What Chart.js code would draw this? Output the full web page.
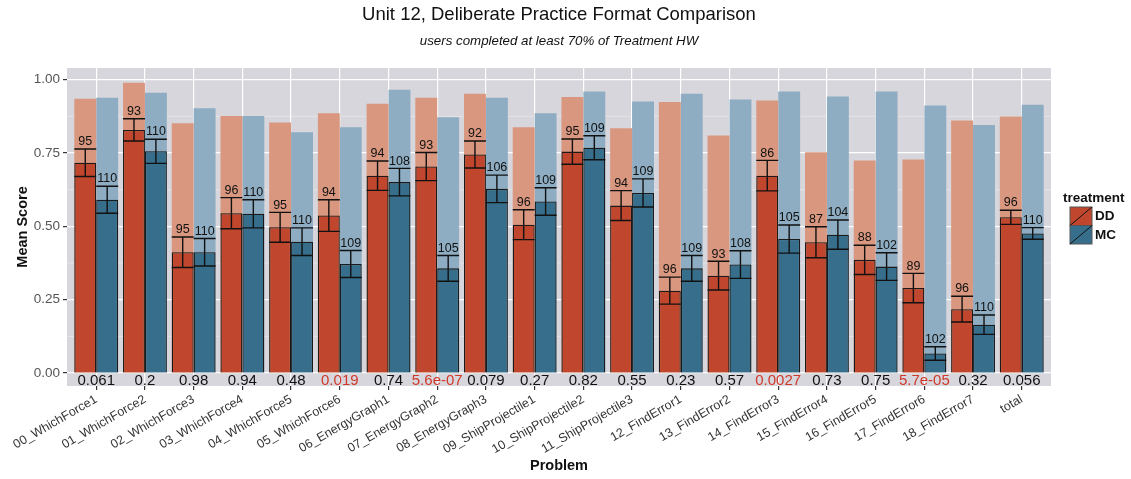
<!DOCTYPE html>
<html>
<head>
<meta charset="utf-8">
<script src="https://cdn.jsdelivr.net/npm/chart.js@4.4.1/dist/chart.umd.min.js"></script>
<style>
  html, body { margin: 0; padding: 0; background: #fff; }
  #wrap { width: 1131px; height: 479px; }
</style>
</head>
<body>
<div id="wrap"><canvas id="chart" width="1131" height="479"></canvas></div>
<script>
const problems = [
  '00_WhichForce1', '01_WhichForce2', '02_WhichForce3', '03_WhichForce4', '04_WhichForce5',
  '05_WhichForce6', '06_EnergyGraph1', '07_EnergyGraph2', '08_EnergyGraph3', '09_ShipProjectile1',
  '10_ShipProjectile2', '11_ShipProjectile3', '12_FindError1', '13_FindError2', '14_FindError3',
  '15_FindError4', '16_FindError5', '17_FindError6', '18_FindError7', 'total'
];

// mean score per problem
const ddMean = [0.717, 0.829, 0.412, 0.545, 0.497, 0.537, 0.673, 0.704, 0.745, 0.506,
                0.755, 0.571, 0.281, 0.332, 0.673, 0.446, 0.386, 0.290, 0.218, 0.531];
const mcMean = [0.591, 0.756, 0.412, 0.543, 0.448, 0.372, 0.651, 0.357, 0.628, 0.585,
                0.768, 0.614, 0.357, 0.370, 0.457, 0.472, 0.363, 0.067, 0.165, 0.476];

// standard errors
const ddSe = [0.047, 0.038, 0.052, 0.053, 0.051, 0.054, 0.050, 0.048, 0.046, 0.051,
              0.043, 0.051, 0.046, 0.049, 0.052, 0.053, 0.050, 0.050, 0.044, 0.024];
const mcSe = [0.046, 0.041, 0.047, 0.048, 0.047, 0.046, 0.047, 0.044, 0.047, 0.047,
              0.041, 0.048, 0.044, 0.047, 0.048, 0.050, 0.047, 0.023, 0.033, 0.020];

// faded background bars
const ddTop = [0.935, 0.990, 0.852, 0.876, 0.854, 0.886, 0.918, 0.939, 0.952, 0.838,
               0.941, 0.835, 0.924, 0.810, 0.929, 0.753, 0.725, 0.728, 0.861, 0.875];
const mcTop = [0.939, 0.956, 0.903, 0.876, 0.821, 0.838, 0.966, 0.872, 0.939, 0.886,
               0.960, 0.926, 0.952, 0.933, 0.960, 0.943, 0.960, 0.912, 0.846, 0.915];

// number of users
const ddN = [95, 93, 95, 96, 95, 94, 94, 93, 92, 96, 95, 94, 96, 93, 86, 87, 88, 89, 96, 96];
const mcN = [110, 110, 110, 110, 110, 109, 108, 105, 106, 109, 109, 109, 109, 108, 105, 104, 102, 102, 110, 110];

// p-values DD vs MC
const pValues = [0.061, 0.2, 0.98, 0.94, 0.48, 0.019, 0.74, 5.6e-7, 0.079, 0.27,
                 0.82, 0.55, 0.23, 0.57, 0.0027, 0.73, 0.75, 5.7e-5, 0.32, 0.056];

const yTicks = [0, 0.25, 0.5, 0.75, 1];
const yMinor = [0.125, 0.375, 0.625, 0.875];

const FONT = '"Liberation Sans", Arial, Helvetica, sans-serif';
const ddColor = '#C0472E', mcColor = '#366E8B';
const ddFade = '#D9977F', mcFade = '#8EADC2';
const panelBg = '#D7D6DC';

const xMin = -0.6, xMax = problems.length - 0.4;

function fmtP(v) {
  if (v < 1e-4) {
    const [m, e] = v.toExponential(1).split('e');
    const sign = e[0] === '-' ? '-' : '+';
    const digits = e.replace(/[+-]/, '').padStart(2, '0');
    return m + 'e' + sign + digits;
  }
  return String(Number(v.toPrecision(2)));
}

// gray panel + minor grid
const panel = {
  id: 'panel',
  beforeDraw(chart) {
    const { ctx, chartArea: a, scales: { y } } = chart;
    ctx.save();
    ctx.fillStyle = panelBg;
    ctx.fillRect(a.left, a.top, a.right - a.left, a.bottom - a.top);
    ctx.strokeStyle = 'rgba(255,255,255,0.55)';
    ctx.lineWidth = 0.6;
    yMinor.forEach(v => {
      const py = y.getPixelForValue(v);
      ctx.beginPath();
      ctx.moveTo(a.left, py);
      ctx.lineTo(a.right, py);
      ctx.stroke();
    });
    ctx.restore();
  }
};

// error bars, counts, p-values
const annotations = {
  id: 'annotations',
  afterDatasetsDraw(chart) {
    const { ctx, scales: { x, y } } = chart;
    ctx.save();
    ctx.strokeStyle = '#111';
    ctx.lineWidth = 1.4;
    ctx.fillStyle = '#111';
    ctx.font = '12.5px ' + FONT;
    ctx.textAlign = 'center';
    ctx.textBaseline = 'bottom';
    [[0, ddMean, ddSe, ddN], [1, mcMean, mcSe, mcN]].forEach(([di, mean, se, n]) => {
      chart.getDatasetMeta(di).data.forEach((bar, i) => {
        const half = bar.width / 2;
        const hi = y.getPixelForValue(mean[i] + se[i]);
        const lo = y.getPixelForValue(mean[i] - se[i]);
        ctx.beginPath();
        ctx.moveTo(bar.x - half, hi); ctx.lineTo(bar.x + half, hi);
        ctx.moveTo(bar.x, hi); ctx.lineTo(bar.x, lo);
        ctx.moveTo(bar.x - half, lo); ctx.lineTo(bar.x + half, lo);
        ctx.stroke();
        ctx.fillText(String(n[i]), bar.x, hi - 1);
      });
    });
    ctx.font = '15px ' + FONT;
    ctx.textBaseline = 'middle';
    pValues.forEach((p, i) => {
      ctx.fillStyle = p < 0.05 ? '#D0392A' : '#111';
      ctx.fillText(fmtP(p), x.getPixelForValue(i), y.getPixelForValue(-0.026));
    });
    ctx.restore();
  }
};

// title, subtitle and legend
const frame = {
  id: 'frame',
  afterDraw(chart) {
    const { ctx, chartArea: a } = chart;
    const cx = (a.left + a.right) / 2;
    ctx.save();
    ctx.fillStyle = '#111';
    ctx.textAlign = 'center';
    ctx.textBaseline = 'middle';
    ctx.font = '18.5px ' + FONT;
    ctx.fillText('Unit 12, Deliberate Practice Format Comparison', cx, 15);
    ctx.font = 'italic 13.3px ' + FONT;
    ctx.fillText('users completed at least 70% of Treatment HW', cx, 41);

    const lx = a.right + 19;
    ctx.textAlign = 'left';
    ctx.font = 'bold 13.5px ' + FONT;
    ctx.fillText('treatment', a.right + 12, 198);
    [['DD', ddColor], ['MC', mcColor]].forEach(([name, col], k) => {
      const top = 207 + k * 18.5;
      ctx.fillStyle = col;
      ctx.fillRect(lx, top, 22, 18.5);
      ctx.strokeStyle = '#555';
      ctx.lineWidth = 1;
      ctx.strokeRect(lx, top, 22, 18.5);
      ctx.strokeStyle = '#111';
      ctx.beginPath();
      ctx.moveTo(lx, top + 18.5);
      ctx.lineTo(lx + 22, top);
      ctx.stroke();
      ctx.fillStyle = '#111';
      ctx.font = 'bold 13.5px ' + FONT;
      ctx.fillText(name, lx + 25, top + 9.5);
    });
    ctx.restore();
  }
};

// solid and faded bars share a slot through their stack name
const bars = (label, stack, vals, color, border) => ({
  label,
  stack,
  data: vals.map((v, i) => ({ x: i, y: v })),
  backgroundColor: color,
  borderColor: '#1a1a1a',
  borderWidth: border
});

new Chart(document.getElementById('chart'), {
  type: 'bar',
  data: {
    datasets: [
      bars('DD', 'DD', ddMean, ddColor, 1.3),
      bars('MC', 'MC', mcMean, mcColor, 1.3),
      bars('DD all', 'DD', ddTop, ddFade, 0),
      bars('MC all', 'MC', mcTop, mcFade, 0)
    ]
  },
  options: {
    responsive: false,
    animation: false,
    datasets: { bar: { categoryPercentage: 0.9, barPercentage: 1 } },
    layout: { padding: { top: 68, right: 80, bottom: 0, left: 0 } },
    plugins: { legend: { display: false }, tooltip: { enabled: false } },
    scales: {
      x: {
        type: 'linear', min: xMin, max: xMax, offset: false,
        afterBuildTicks: s => { s.ticks = problems.map((p, i) => ({ value: i })); },
        afterFit: s => { s.height = 93; },
        ticks: {
          autoSkip: false, minRotation: 30, maxRotation: 30, padding: 2,
          callback: v => problems[v],
          font: { family: FONT, size: 12.5 }, color: '#333'
        },
        grid: { offset: false, color: '#fff', lineWidth: 1.2, tickColor: '#333', tickLength: 4 },
        border: { display: false },
        title: {
          display: true, text: 'Problem', color: '#111',
          font: { family: FONT, size: 14.5, weight: 'bold' },
          padding: { top: 0, bottom: 4 }
        }
      },
      y: {
        stacked: false,
        min: -0.044, max: 1.04,
        afterBuildTicks: s => { s.ticks = yTicks.map(v => ({ value: v })); },
        afterFit: s => { s.width = 67; },
        ticks: {
          padding: 3,
          callback: v => v.toFixed(2),
          font: { family: FONT, size: 13.5 }, color: '#555'
        },
        grid: { color: '#fff', lineWidth: 1.2, tickColor: '#333', tickLength: 4 },
        border: { display: false },
        title: {
          display: true, text: 'Mean Score', color: '#111',
          font: { family: FONT, size: 14.5, weight: 'bold' },
          padding: { top: 14, bottom: 0 }
        }
      }
    }
  },
  plugins: [panel, annotations, frame]
});
</script>
</body>
</html>
